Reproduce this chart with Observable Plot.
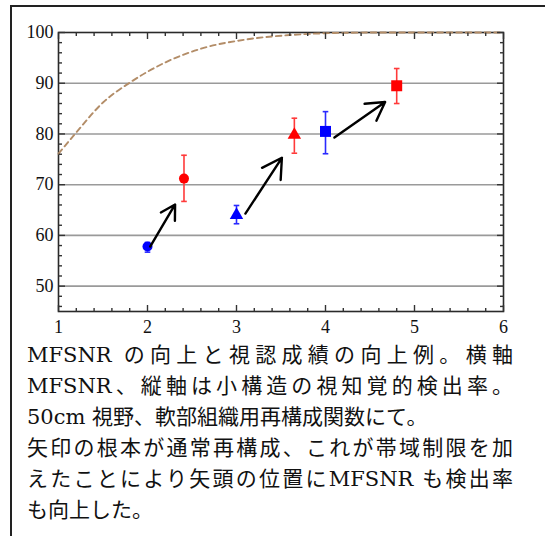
<!DOCTYPE html>
<html><head><meta charset="utf-8">
<script src="https://cdn.jsdelivr.net/npm/d3@7"></script>
<script src="https://cdn.jsdelivr.net/npm/@observablehq/plot@0.6"></script>
<style>
html,body{margin:0;padding:0;background:#fff;overflow:hidden;width:545px;height:536px;}
#wrap{position:relative;width:545px;height:536px;}
#chart{position:absolute;left:0;top:0;}
#box{position:absolute;left:10px;top:5px;width:600px;height:600px;border-left:2px solid #222;border-top:2px solid #222;pointer-events:none;}
#caption{position:absolute;left:27px;top:340px;width:486px;font-family:"DejaVu Serif","Noto Sans CJK JP",serif;font-size:21px;line-height:31px;color:#111;}
.j{text-align:justify;text-align-last:justify;}
</style>
</head><body>
<div id="wrap">
  <div id="chart"></div>
  <div id="caption"></div>
  <div id="box"></div>
</div>
<script>
// ---- data ----
const xMajor = [1, 2, 3, 4, 5, 6];
const xMinor = [1.2, 1.4, 1.6, 1.8, 2.2, 2.4, 2.6, 2.8, 3.2, 3.4, 3.6, 3.8, 4.2, 4.4, 4.6, 4.8, 5.2, 5.4, 5.6, 5.8];
const yMajor = [50, 60, 70, 80, 90, 100];
const yMinor = [46, 48, 52, 54, 56, 58, 62, 64, 66, 68, 72, 74, 76, 78, 82, 84, 86, 88, 92, 94, 96, 98];
const yGrid = [50, 60, 70, 80, 90];

// normal reconstruction (blue) and band-limited reconstruction (red)
const blueX = [2.0, 3.0, 4.0];
const blueY = [57.8, 64.0, 80.5];
const blueLo = [56.7, 62.3, 76.1];
const blueHi = [58.6, 65.9, 84.4];
const blueShape = ["circle", "triangle", "square"];

const redX = [2.41, 3.65, 4.8];
const redY = [71.2, 79.8, 89.5];
const redLo = [66.7, 76.2, 86.0];
const redHi = [75.8, 83.1, 92.9];
const redShape = ["circle", "triangle", "square"];

// arrows from normal to band-limited
const arrowX1 = [2.03, 3.10, 4.10];
const arrowY1 = [57.8, 64.3, 79.3];
const arrowX2 = [2.31, 3.51, 4.67];
const arrowY2 = [66.1, 75.3, 86.3];

// dashed reference curve
const curveX = [1.0, 1.2, 1.5, 1.8, 2.2, 2.6, 3.1, 3.6, 4.1, 4.6, 5.0, 5.5, 6.0];
const curveY = [76.1, 80.3, 86.2, 90.1, 94.1, 96.8, 98.6, 99.5, 99.9, 100, 100, 100, 100];

const captionLines = [
  "MFSNR の向上と視認成績の向上例。横軸",
  "MFSNR、縦軸は小構造の視知覚的検出率。",
  "50cm 視野、軟部組織用再構成関数にて。",
  "矢印の根本が通常再構成、これが帯域制限を加",
  "えたことにより矢頭の位置にMFSNR も検出率",
  "も向上した。"
];
const captionJustify = [true, true, false, true, true, false];

// ---- tables ----
const mk = (X, Y, L, H, S) => X.map((x, i) => ({x, y: Y[i], lo: L[i], hi: H[i], shape: S[i]}));
const blue = mk(blueX, blueY, blueLo, blueHi, blueShape);
const red = mk(redX, redY, redLo, redHi, redShape);
const arrows = arrowX1.map((x1, i) => ({x1, y1: arrowY1[i], x2: arrowX2[i], y2: arrowY2[i]}));
const curve = curveX.map((x, i) => ({x, y: curveY[i]}));

const cap = {draw(ctx, size) { const r = Math.sqrt(size / Math.PI); ctx.moveTo(-r, 0); ctx.lineTo(r, 0); }};
const tickSym = (dx, dy) => ({draw(ctx, size) { const r = Math.sqrt(size / Math.PI); ctx.moveTo(0, 0); ctx.lineTo(dx * r, dy * r); }});
const up = tickSym(0, -1), down = tickSym(0, 1), right = tickSym(1, 0), left = tickSym(-1, 0);
const rFor = {circle: 5, triangle: 5, square: 6.2};

function series(data, markColor, barColor) {
  return [
    Plot.ruleX(data, {x: "x", y1: "lo", y2: "hi", stroke: barColor, strokeWidth: 1.6}),
    Plot.dot(data, {x: "x", y: "lo", symbol: () => cap, r: 2.8, stroke: barColor, strokeWidth: 1.6, fill: "none"}),
    Plot.dot(data, {x: "x", y: "hi", symbol: () => cap, r: 2.8, stroke: barColor, strokeWidth: 1.6, fill: "none"}),
    ...["circle", "triangle", "square"].map(s =>
      Plot.dot(data.filter(d => d.shape === s), {x: "x", y: "y", symbol: s, r: rFor[s], fill: markColor, stroke: "none"}))
  ];
}

function ticks(values, axis, anchor, sym, len) {
  const o = {symbol: () => sym, r: len, stroke: "#333", strokeWidth: 1.4, fill: "none", frameAnchor: anchor};
  return axis === "x" ? Plot.dot(values, {...o, x: d => d}) : Plot.dot(values, {...o, y: d => d});
}

const chart = Plot.plot({
  width: 545,
  height: 340,
  marginLeft: 58,
  marginRight: 42,
  marginTop: 32,
  marginBottom: 29,
  style: {fontFamily: "'Liberation Serif', serif", fontSize: "18px", color: "#111", background: "transparent"},
  x: {domain: [1, 6], axis: null},
  y: {domain: [45, 100], axis: null},
  marks: [
    Plot.gridY(yGrid, {stroke: "#9a9a9a", strokeOpacity: 1, strokeWidth: 1.6}),
    Plot.frame({stroke: "#2a2a2a", strokeWidth: 1.6}),
    Plot.line(curve, {x: "x", y: "y", stroke: "#b38d68", strokeWidth: 1.9, strokeDasharray: "5.5,4", curve: "monotone-x"}),
    // inward ticks
    ticks(xMinor, "x", "bottom", up, 3.5),
    ticks(xMajor, "x", "bottom", up, 6.5),
    ticks(xMinor, "x", "top", down, 3.5),
    ticks(xMajor, "x", "top", down, 6.5),
    ticks(yMinor, "y", "left", right, 3.5),
    ticks(yMajor, "y", "left", right, 6.5),
    ticks(yMinor, "y", "right", left, 3.5),
    ticks(yMajor, "y", "right", left, 6.5),
    // labels
    Plot.axisX(xMajor, {anchor: "bottom", tickSize: 0, tickPadding: 9, fill: "#111", fontSize: 18}),
    Plot.axisY(yMajor, {anchor: "left", tickSize: 0, tickPadding: 5, fill: "#111", fontSize: 18}),
    ...series(blue, "#0000ff", "#2a2aff"),
    ...series(red, "#ff0000", "#ff3a3a"),
    Plot.arrow(arrows, {x1: "x1", y1: "y1", x2: "x2", y2: "y2", stroke: "#000", strokeWidth: 2.4, headLength: 16, headAngle: 60})
  ]
});
document.getElementById("chart").appendChild(chart);

const capEl = document.getElementById("caption");
captionLines.forEach((t, i) => {
  const d = document.createElement("div");
  d.textContent = t;
  if (captionJustify[i]) d.className = "j";
  capEl.appendChild(d);
});
</script>
</body></html>
